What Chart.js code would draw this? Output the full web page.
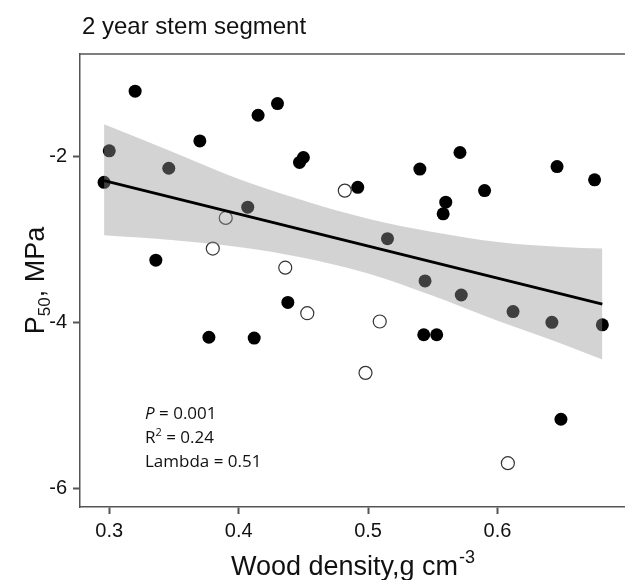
<!DOCTYPE html>
<html lang="en">
<head>
  <meta charset="UTF-8">
  <title>2 year stem segment</title>
  <script src="https://cdn.jsdelivr.net/npm/chart.js"></script>
  <style>
    body { margin: 0; background: #fff; }
    #wrap { width: 625px; height: 580px; }
  </style>
</head>
<body>
  <div id="wrap"><canvas id="chart"></canvas></div>
  <script>
    // species: wood density (g cm-3) vs P50 (MPa)
    const solidX = [0.320, 0.430, 0.415, 0.370, 0.450, 0.447, 0.296, 0.336, 0.438, 0.377, 0.412,
      0.492, 0.540, 0.571, 0.590, 0.560, 0.558, 0.646, 0.675, 0.543, 0.553, 0.649,
      0.300, 0.346, 0.407, 0.515, 0.544, 0.572, 0.612, 0.642, 0.681];
    const solidY = [-1.21, -1.36, -1.50, -1.81, -2.01, -2.07, -2.31, -3.25, -3.76, -4.18, -4.19,
      -2.37, -2.15, -1.95, -2.41, -2.55, -2.69, -2.12, -2.28, -4.15, -4.15, -5.17,
      -1.93, -2.14, -2.61, -2.99, -3.50, -3.67, -3.87, -4.00, -4.03];
    const openX = [0.482, 0.390, 0.380, 0.436, 0.453, 0.509, 0.498, 0.608];
    const openY = [-2.41, -2.74, -3.11, -3.34, -3.89, -3.99, -4.61, -5.70];

    // regression line and its confidence band
    const fitX = [0.296, 0.681];
    const fitY = [-2.29, -3.78];
    const bandX = [0.296, 0.35, 0.40, 0.45, 0.50, 0.55, 0.60, 0.65, 0.681];
    const bandUpper = [-1.61, -1.95, -2.27, -2.53, -2.75, -2.91, -3.03, -3.09, -3.11];
    const bandLower = [-2.95, -3.01, -3.09, -3.22, -3.41, -3.68, -3.98, -4.26, -4.45];

    const xTicks = [0.3, 0.4, 0.5, 0.6];
    const yTicks = [-6, -4, -2];

    const pairs = (xs, ys) => xs.map((x, i) => ({ x: x, y: ys[i] }));

    const axisColor = '#555';

    const decorations = {
      id: 'decorations',
      beforeDraw(chart) {
        const ctx = chart.ctx;
        ctx.save();
        ctx.fillStyle = '#fff';
        ctx.fillRect(0, 0, chart.width, chart.height);
        ctx.restore();
      },
      afterDraw(chart) {
        const ctx = chart.ctx;
        const a = chart.chartArea;
        ctx.save();

        // top frame line
        ctx.strokeStyle = axisColor;
        ctx.lineWidth = 1.5;
        ctx.beginPath();
        ctx.moveTo(a.left, a.top);
        ctx.lineTo(chart.width, a.top);
        ctx.stroke();

        ctx.fillStyle = '#111';
        ctx.textBaseline = 'alphabetic';

        // title
        ctx.font = '24px "Liberation Sans", Arial, sans-serif';
        ctx.textAlign = 'left';
        ctx.fillText('2 year stem segment', 82, 34);

        // x axis title with superscript
        const big = '27px "Liberation Sans", Arial, sans-serif';
        const small = '18px "Liberation Sans", Arial, sans-serif';
        ctx.font = big;
        const xMain = 'Wood density,g cm';
        const w1 = ctx.measureText(xMain).width;
        ctx.font = small;
        const w2 = ctx.measureText('-3').width;
        let x0 = (a.left + chart.width) / 2 - (w1 + w2) / 2;
        ctx.font = big;
        ctx.fillText(xMain, x0, 575);
        ctx.font = small;
        ctx.fillText('-3', x0 + w1 + 1, 563);

        // y axis title with subscript, rotated
        const bigY = '27px "Liberation Sans", Arial, sans-serif';
        const smallY = '17px "Liberation Sans", Arial, sans-serif';
        ctx.translate(44, (a.top + a.bottom) / 2);
        ctx.rotate(-Math.PI / 2);
        ctx.font = bigY;
        const wp = ctx.measureText('P').width;
        const wr = ctx.measureText(', MPa').width;
        ctx.font = smallY;
        const ws = ctx.measureText('50').width;
        let y0 = -(wp + ws + wr) / 2;
        ctx.font = bigY;
        ctx.fillText('P', y0, 0);
        ctx.font = smallY;
        ctx.fillText('50', y0 + wp, 6);
        ctx.font = bigY;
        ctx.fillText(', MPa', y0 + wp + ws, 0);
        ctx.setTransform(1, 0, 0, 1, 0, 0);

        // statistics
        const sf = '17px "Open Sans", "Noto Sans", sans-serif';
        const sfi = 'italic 17px "Open Sans", "Noto Sans", sans-serif';
        const sx = 145;
        ctx.font = sfi;
        ctx.fillText('P', sx, 419);
        const wP = ctx.measureText('P').width;
        ctx.font = sf;
        ctx.fillText(' = 0.001', sx + wP, 419);
        ctx.fillText('R', sx, 443);
        const wR = ctx.measureText('R').width;
        ctx.font = '11px "Open Sans", "Noto Sans", sans-serif';
        ctx.fillText('2', sx + wR, 436);
        const w2s = ctx.measureText('2').width;
        ctx.font = sf;
        ctx.fillText(' = 0.24', sx + wR + w2s, 443);
        ctx.fillText('Lambda = 0.51', sx, 467);

        ctx.restore();
      }
    };

    new Chart(document.getElementById('chart'), {
      type: 'scatter',
      data: {
        datasets: [
          {
            label: 'band lower',
            type: 'line',
            data: pairs(bandX, bandLower),
            borderWidth: 0,
            pointRadius: 0,
            cubicInterpolationMode: 'monotone',
            fill: false,
            order: 2
          },
          {
            label: 'band upper',
            type: 'line',
            data: pairs(bandX, bandUpper),
            borderWidth: 0,
            pointRadius: 0,
            cubicInterpolationMode: 'monotone',
            backgroundColor: 'rgba(151, 151, 151, 0.42)',
            fill: '-1',
            order: 2
          },
          {
            label: 'fit',
            type: 'line',
            data: pairs(fitX, fitY),
            borderColor: '#000',
            borderWidth: 2.8,
            pointRadius: 0,
            fill: false,
            order: 1
          },
          {
            label: 'open',
            data: pairs(openX, openY),
            pointRadius: 6.5,
            pointBackgroundColor: '#fff',
            pointBorderColor: '#333',
            pointBorderWidth: 1.2,
            order: 3
          },
          {
            label: 'solid',
            data: pairs(solidX, solidY),
            pointRadius: 6.5,
            pointBackgroundColor: '#000',
            pointBorderWidth: 0,
            order: 3
          }
        ]
      },
      options: {
        responsive: true,
        maintainAspectRatio: false,
        animation: false,
        layout: { autoPadding: false, padding: { top: 54, left: 0, right: 0, bottom: 0 } },
        plugins: {
          legend: { display: false },
          tooltip: { enabled: false }
        },
        scales: {
          x: {
            type: 'linear',
            min: 0.2774,
            max: 0.6985,
            afterBuildTicks: s => { s.ticks = xTicks.map(v => ({ value: v })); },
            afterFit: s => { s.height = 73; },
            grid: { drawOnChartArea: false, drawTicks: true, tickLength: 7, tickColor: axisColor, tickWidth: 2 },
            border: { display: true, color: axisColor, width: 1.5 },
            ticks: {
              color: '#111',
              padding: 5,
              font: { family: '"Liberation Sans", Arial, sans-serif', size: 20 },
              callback: v => v.toFixed(1)
            }
          },
          y: {
            type: 'linear',
            min: -6.229,
            max: -0.761,
            afterBuildTicks: s => { s.ticks = yTicks.map(v => ({ value: v })); },
            afterFit: s => { s.width = 80; },
            grid: { drawOnChartArea: false, drawTicks: true, tickLength: 7, tickColor: axisColor, tickWidth: 2 },
            border: { display: true, color: axisColor, width: 1.5 },
            ticks: {
              color: '#111',
              padding: 6,
              font: { family: '"Liberation Sans", Arial, sans-serif', size: 20 },
              callback: v => String(v)
            }
          }
        }
      },
      plugins: [decorations]
    });
  </script>
</body>
</html>
